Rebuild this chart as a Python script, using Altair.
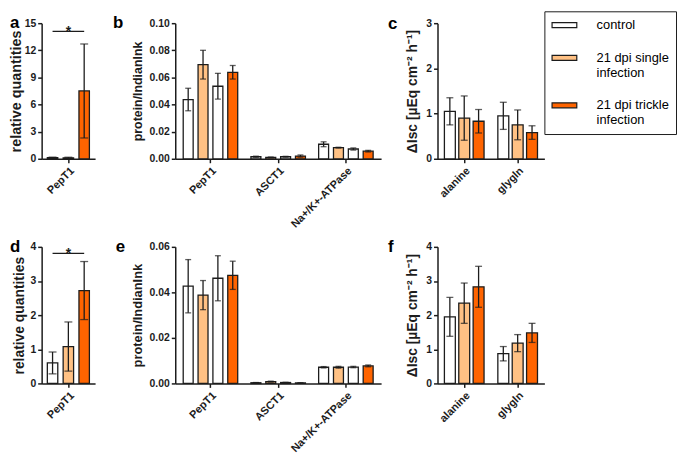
import altair as alt
import pandas as pd

FONT = "Liberation Sans"
INK = "#1c1c1c"
WHITE = "#ffffff"
LIGHT = "#ffc184"
DARK = "#ff6400"

SERIES3 = ["control", "21 dpi single infection", "21 dpi trickle infection"]
SERIES4 = ["control (single)", "21 dpi single infection", "control (trickle)", "21 dpi trickle infection"]
COLORS3 = [WHITE, LIGHT, DARK]
COLORS4 = [WHITE, LIGHT, WHITE, DARK]

# ---- panel a : relative quantities (mRNA)
a_groups = ["PepT1"]
a_mean = [[0.12, 0.10, 7.5]]
a_err = [[0.06, 0.07, 5.2]]
a_sig = 14.1

# ---- panel b : protein / Indian ink
b_groups = ["PepT1", "ASCT1", "Na+/K+-ATPase"]
b_mean = [[0.0437, 0.0694, 0.0535, 0.0638],
          [0.0015, 0.0010, 0.0015, 0.0020],
          [0.0107, 0.0082, 0.0072, 0.0056]]
b_err = [[0.0083, 0.0106, 0.0095, 0.0050],
         [0.0004, 0.0003, 0.0003, 0.0008],
         [0.0018, 0.0003, 0.0008, 0.0006]]

# ---- panel c : delta Isc
c_groups = ["alanine", "glygln"]
c_mean = [[1.05, 0.90, 0.83], [0.95, 0.75, 0.58]]
c_err = [[0.30, 0.49, 0.26], [0.30, 0.33, 0.15]]

# ---- panel d
d_groups = ["PepT1"]
d_mean = [[0.60, 1.08, 2.72]]
d_err = [[0.32, 0.72, 0.85]]
d_sig = 3.81

# ---- panel e
e_groups = ["PepT1", "ASCT1", "Na+/K+-ATPase"]
e_mean = [[0.0427, 0.0388, 0.0462, 0.0475],
          [0.0003, 0.0008, 0.0004, 0.0002],
          [0.0071, 0.0071, 0.0072, 0.0077]]
e_err = [[0.0117, 0.0064, 0.0099, 0.0062],
         [0.0001, 0.0002, 0.0001, 0.0001],
         [0.0003, 0.0004, 0.0003, 0.0004]]

# ---- panel f
f_groups = ["alanine", "glygln"]
f_mean = [[1.95, 2.35, 2.83], [0.87, 1.18, 1.48]]
f_err = [[0.57, 0.59, 0.60], [0.21, 0.25, 0.28]]

ISC_TITLE = "\u0394Isc [\u00b5Eq cm\u207b\u00b2 h\u207b\u00b9]"


def frame(groups, series, means, errs):
    rows = []
    for g, ms, es in zip(groups, means, errs):
        for s, m, e in zip(series, ms, es):
            rows.append({"group": g, "series": s, "mean": m,
                         "lo": max(m - e, 0.0), "hi": m + e})
    return pd.DataFrame(rows)


def panel(df, groups, series, colors, width, height, ymax, yticks, yfmt,
          ytitle, ytitle_size, ytitle_pad, letter, letter_dx, letter_off,
          x_po, o_pi, o_po, cap, legend=None, sig=None):
    x = alt.X("group:N", sort=groups, title=None,
              scale=alt.Scale(paddingInner=0, paddingOuter=x_po),
              axis=alt.Axis(labelAngle=-45, labelAlign="right", labelBaseline="top",
                            labelFontSize=11, labelPadding=2))
    xo = alt.XOffset("series:N", sort=series,
                     scale=alt.Scale(domain=series, paddingInner=o_pi, paddingOuter=o_po))
    yscale = alt.Scale(domain=[0, ymax], nice=False, zero=True)
    yaxis = alt.Axis(values=yticks, format=yfmt, title=ytitle, titleFontSize=ytitle_size,
                     titlePadding=ytitle_pad, labelFontSize=10.5, labelPadding=2)
    base = alt.Chart(df)
    fill = alt.Fill("series:N", sort=series,
                    scale=alt.Scale(domain=series, range=colors), legend=legend)
    bars = base.mark_bar(stroke=INK, strokeWidth=1.3).encode(
        x=x, xOffset=xo, y=alt.Y("mean:Q", scale=yscale, axis=yaxis), fill=fill)
    rules = base.mark_rule(color=INK, strokeWidth=1.3).encode(
        x=x, xOffset=xo, y=alt.Y("lo:Q", scale=yscale, axis=yaxis), y2="hi:Q")
    cap_hi = base.mark_tick(color=INK, orient="horizontal", size=cap, thickness=1.3).encode(
        x=x, xOffset=xo, y=alt.Y("hi:Q", scale=yscale, axis=yaxis))
    cap_lo = base.mark_tick(color=INK, orient="horizontal", size=cap, thickness=1.3).encode(
        x=x, xOffset=xo, y=alt.Y("lo:Q", scale=yscale, axis=yaxis))
    layers = [bars, rules, cap_hi, cap_lo]
    if sig is not None:
        sdf = pd.DataFrame({"group": [groups[0], groups[0]],
                            "series": [series[0], series[-1]],
                            "y": [sig, sig]})
        line = alt.Chart(sdf).mark_line(color=INK, strokeWidth=1.3).encode(
            x=x, xOffset=xo, y=alt.Y("y:Q", scale=yscale, axis=yaxis))
        tdf = pd.DataFrame({"group": [groups[0]], "series": [series[1]],
                            "y": [sig], "t": ["*"]})
        star = alt.Chart(tdf).mark_text(font=FONT, fontWeight="bold", fontSize=14,
                                        color=INK, baseline="alphabetic", dy=5).encode(
            x=x, xOffset=xo, y=alt.Y("y:Q", scale=yscale, axis=yaxis), text="t:N")
        layers += [line, star]
    return alt.layer(*layers).properties(
        width=width, height=height,
        title=alt.TitleParams(text=letter, anchor="start", frame="group", dx=letter_dx,
                              offset=letter_off, fontSize=17, font=FONT, fontWeight="bold",
                              color="black"))


legend_c = alt.Legend(
    title=None, orient="none", legendX=108, legendY=-12, strokeColor=INK,
    fillColor="white", padding=7, rowPadding=19, symbolOffset=6.25, labelOffset=25.5,
    labelFontSize=13, labelFont=FONT, labelFontWeight="normal", labelColor="black",
    labelLimit=300, symbolType="M-2,-0.4H2V0.4H-2Z", symbolSize=156,
    symbolStrokeColor=INK, symbolStrokeWidth=1.2,
    labelExpr="datum.label == 'control' ? datum.label : [replace(datum.label, ' infection', ''), 'infection']")

pa = panel(frame(a_groups, SERIES3, a_mean, a_err), a_groups, SERIES3, COLORS3,
           54, 137, 15, [0, 3, 6, 9, 12, 15], "d", "relative quantities", 14.5, 1,
           "a", -32, -14, 0, 0.34, 0.36, 8, sig=a_sig)
pb = panel(frame(b_groups, SERIES4, b_mean, b_err), b_groups, SERIES4, COLORS4,
           208, 137, 0.10, [0, 0.02, 0.04, 0.06, 0.08, 0.10], ".2f", "protein/IndianInk", 12.5, 5,
           "b", -63, -14, 0.02, 0.33, 0.445, 6)
pc = panel(frame(c_groups, SERIES3, c_mean, c_err), c_groups, SERIES3, COLORS3,
           108, 137, 3, [0, 1, 2, 3], "d", ISC_TITLE, 14, 6,
           "c", -50, -22, 0, 0.24, 0.48, 7, legend=legend_c)
pd_ = panel(frame(d_groups, SERIES3, d_mean, d_err), d_groups, SERIES3, COLORS3,
            54, 138, 4, [0, 1, 2, 3, 4], "d", "relative quantities", 14, 3,
            "d", -32, -14, 0, 0.34, 0.36, 8, sig=d_sig)
pe = panel(frame(e_groups, SERIES4, e_mean, e_err), e_groups, SERIES4, COLORS4,
           208, 138, 0.06, [0, 0.02, 0.04, 0.06], ".2f", "protein/IndianInk", 13, 5,
           "e", -60, -14, 0.02, 0.33, 0.445, 6)
pf = panel(frame(f_groups, SERIES3, f_mean, f_err), f_groups, SERIES3, COLORS3,
           108, 138, 4, [0, 1, 2, 3, 4], "d", ISC_TITLE, 14, 6,
           "f", -50, -14, 0, 0.24, 0.48, 7)


def row(p1, p2, p3):
    inner = alt.hconcat(p2, p3, spacing=57, bounds="flush").resolve_scale(
        fill="independent", xOffset="independent")
    return alt.hconcat(p1, inner, spacing=81, bounds="flush").resolve_scale(
        fill="independent", xOffset="independent")


# nested flush rows count as zero height, so the spacing holds row 1's plot height (137) + gap (89)
chart = alt.vconcat(row(pa, pb, pc), row(pd_, pe, pf), spacing=226, bounds="flush").resolve_scale(
    fill="independent", xOffset="independent"
).properties(padding=0).configure(font=FONT).configure_axis(
    domainColor=INK, domainWidth=1.5, tickColor=INK, tickWidth=1.5, tickSize=4,
    labelFont=FONT, labelFontWeight="bold", labelColor=INK,
    titleFont=FONT, titleFontWeight="bold", titleColor=INK, grid=False
).configure_view(stroke=None)

chart.save("out.html", embed_options={"renderer": "svg", "actions": False})
